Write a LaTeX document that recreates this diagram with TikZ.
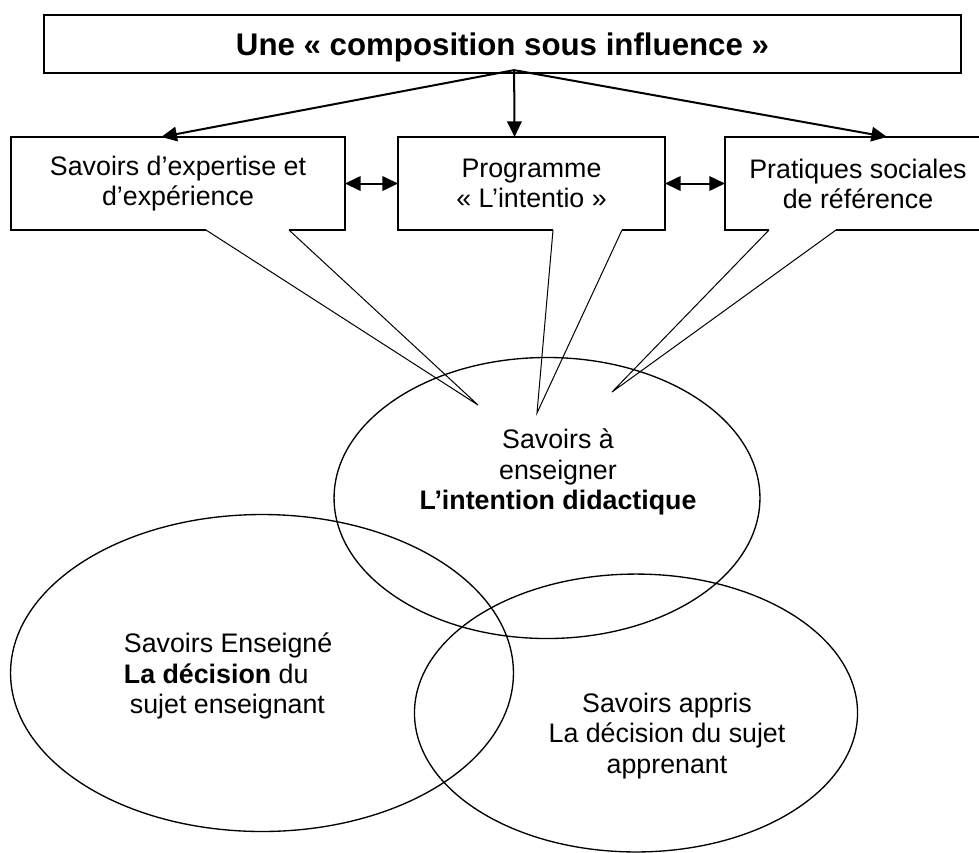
\documentclass[tikz,border=0pt]{standalone}
\usepackage{fontspec}
\setmainfont{Liberation Sans}
\usetikzlibrary{calc}
\usetikzlibrary{shapes.geometric}
\usetikzlibrary{arrows.meta}

\tikzset{
  cadre/.style={minimum height=41.7pt, inner sep=0pt, outer sep=0pt, align=center,
    font=\fontsize{12pt}{13.5pt}\selectfont},
  trait/.style={line width=0.65pt},
  queue/.style={line width=0.45pt},
  fleche/.style={line width=0.9pt},
  rond/.style={ellipse, draw, line width=0.6pt, inner sep=0pt, outer sep=0pt},
  texte/.style={align=center, font=\fontsize{12pt}{13.5pt}\selectfont},
}

\begin{document}
\begin{tikzpicture}[x=0.448pt,y=-0.448pt,>={Triangle[length=7pt,width=6.5pt]}]
  \useasboundingbox (0,0) rectangle (979,852);
  % titre
  \node[draw, trait, minimum width=410.8pt, minimum height=26pt, inner sep=0pt, outer sep=0pt,
    font=\fontsize{14pt}{16pt}\selectfont\bfseries] (titre) at (502.5,44)
    {\raisebox{-1.6pt}[\height][\depth]{Une « composition sous influence »}};
  % les trois bulles
  \node[cadre, minimum width=149.6pt] (expertise) at (178,183.5) {Savoirs d’expertise et\\d’expérience};
  \node[cadre, minimum width=119.6pt] (programme) at (531.5,183.5) {Programme\\« L’intentio »};
  \node[cadre, minimum width=119.2pt] (pratiques) at (858,183.5) {Pratiques sociales\\de référence};
  \coordinate (pointeA) at (478,405);
  \coordinate (pointeB) at (537,413);
  \coordinate (pointeC) at (612,392);
  \draw[trait] ($(expertise.south west)+(195,0)$) -- (expertise.south west) -- (expertise.north west)
    -- (expertise.north east) -- (expertise.south east) -- ($(expertise.south west)+(278,0)$);
  \draw[queue] ($(expertise.south west)+(195,0)$) -- (pointeA) -- ($(expertise.south west)+(278,0)$);
  \draw[trait] ($(programme.south west)+(155,0)$) -- (programme.south west) -- (programme.north west)
    -- (programme.north east) -- (programme.south east) -- ($(programme.south west)+(224,0)$);
  \draw[queue] ($(programme.south west)+(155,0)$) -- (pointeB) -- ($(programme.south west)+(224,0)$);
  \draw[trait] ($(pratiques.south west)+(44,0)$) -- (pratiques.south west) -- (pratiques.north west)
    -- (pratiques.north east) -- (pratiques.south east) -- ($(pratiques.south west)+(111,0)$);
  \draw[queue] ($(pratiques.south west)+(44,0)$) -- (pointeC) -- ($(pratiques.south west)+(111,0)$);
  % fleches
  \coordinate (source) at ([xshift=5.2pt,yshift=1.3pt]titre.south);
  \draw[fleche,->] (source) -- ([xshift=-7.5pt]expertise.north);
  \draw[fleche,->] (source) -- ([xshift=-7.6pt]programme.north);
  \draw[fleche,->] (source) -- ([xshift=13pt]pratiques.north);
  \draw[fleche,<->] (expertise.east) -- (programme.west);
  \draw[fleche,<->] (programme.east) -- (pratiques.west);
  % ellipses
  \node[rond, minimum width=190.8pt, minimum height=125.9pt] (enseigner) at (547,498) {};
  \node[rond, minimum width=225.3pt, minimum height=142pt] (enseigne) at (262,673) {};
  \node[rond, minimum width=198.5pt, minimum height=124.5pt] (appris) at (636,713) {};
  \node[texte] (txtenseigner) at (558,472) {Savoirs à\\enseigner\\\textbf{L’intention didactique}};
  \node[texte, align=left, anchor=west] (txtenseigne) at (116,676)
    {Savoirs Enseigné\\\textbf{La décision} du\\\hspace*{2.7pt}sujet enseignant};
  \node[texte] (txtappris) at (667,736) {Savoirs appris\\La décision du sujet\\apprenant};
\end{tikzpicture}
\end{document}
